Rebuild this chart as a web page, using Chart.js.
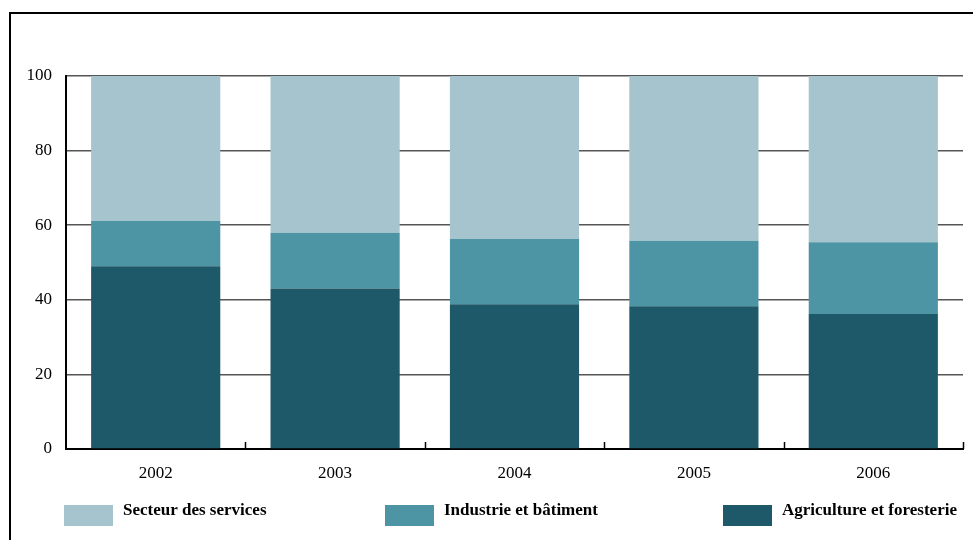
<!DOCTYPE html>
<html>
<head>
<meta charset="utf-8">
<script src="https://cdn.jsdelivr.net/npm/chart.js@4/dist/chart.umd.min.js"></script>
<style>
  body { margin: 0; background: #fff; }
  #wrap { position: relative; width: 973px; height: 540px; overflow: hidden; }
  #frame { position: absolute; left: 9px; top: 12px; width: 1000px; height: 600px;
           border-left: 2px solid #000; border-top: 2px solid #000; }
  #c { position: absolute; left: 0; top: 0; }
</style>
</head>
<body>
<div id="wrap">
  <div id="frame"></div>
  <canvas id="c" width="973" height="540"></canvas>
</div>
<script>
var years = ['2002', '2003', '2004', '2005', '2006'];
var agriculture = [49, 43, 38.8, 38.3, 36.2];
var industrie = [12.1, 15, 17.5, 17.5, 19.2];
var services = [38.9, 42, 43.7, 44.2, 44.6];
var yTicks = [0, 20, 40, 60, 80, 100];

var colServices = '#a5c4cd';
var colIndustrie = '#4d94a5';
var colAgri = '#1d5968';
var serif = '"Liberation Serif", "DejaVu Serif", serif';

// small upward ticks on the x axis, between the categories
var xTickMarks = {
	id: 'xTickMarks',
	afterDatasetsDraw: function(chart) {
		var x = chart.scales.x, ctx = chart.ctx;
		var step = x.getPixelForValue(1) - x.getPixelForValue(0);
		ctx.save();
		ctx.strokeStyle = '#000';
		ctx.lineWidth = 1.5;
		for (var i = 0; i < years.length; i++) {
			var px = Math.round(x.getPixelForValue(i) + step / 2) + 0.5;
			ctx.beginPath();
			ctx.moveTo(px, x.top);
			ctx.lineTo(px, x.top - 7);
			ctx.stroke();
		}
		ctx.restore();
	}
};

// legend row under the axis
var legendRow = {
	id: 'legendRow',
	afterDraw: function(chart) {
		var ctx = chart.ctx;
		var items = [
			{ text: chart.data.datasets[2].label, color: chart.data.datasets[2].backgroundColor, x: 64 },
			{ text: chart.data.datasets[1].label, color: chart.data.datasets[1].backgroundColor, x: 385 },
			{ text: chart.data.datasets[0].label, color: chart.data.datasets[0].backgroundColor, x: 723 }
		];
		ctx.save();
		ctx.font = 'bold 17px ' + serif;
		ctx.textBaseline = 'middle';
		items.forEach(function(it) {
			ctx.fillStyle = it.color;
			ctx.fillRect(it.x, 505, 49, 21);
			ctx.fillStyle = '#000';
			ctx.fillText(it.text, it.x + 59, 511);
		});
		ctx.restore();
	}
};

var chart = new Chart(document.getElementById('c').getContext('2d'), {
	type: 'bar',
	data: {
		labels: years,
		datasets: [
			{ label: 'Agriculture et foresterie', data: agriculture, backgroundColor: colAgri },
			{ label: 'Industrie et bâtiment', data: industrie, backgroundColor: colIndustrie },
			{ label: 'Secteur des services', data: services, backgroundColor: colServices }
		]
	},
	options: {
		responsive: false,
		animation: false,
		layout: { padding: { left: 0, top: 76, right: 10, bottom: 51 } },
		datasets: { bar: { barPercentage: 0.72, categoryPercentage: 1 } },
		plugins: { legend: { display: false }, tooltip: { enabled: false } },
		scales: {
			x: {
				stacked: true,
				afterFit: function(s) { s.height = 40; },
				grid: { display: false },
				border: { display: true, color: '#000', width: 2 },
				ticks: { color: '#000', font: { family: serif, size: 17 }, padding: 6 }
			},
			y: {
				stacked: true,
				min: 0,
				max: 100,
				afterFit: function(s) { s.width = 66; },
				afterBuildTicks: function(s) { s.ticks = yTicks.map(function(v) { return { value: v }; }); },
				grid: { color: '#555', lineWidth: 1.5, drawTicks: false },
				border: { display: true, color: '#000', width: 2 },
				ticks: { color: '#000', font: { family: serif, size: 17 }, padding: 14 }
			}
		}
	},
	plugins: [xTickMarks, legendRow]
});
</script>
</body>
</html>
